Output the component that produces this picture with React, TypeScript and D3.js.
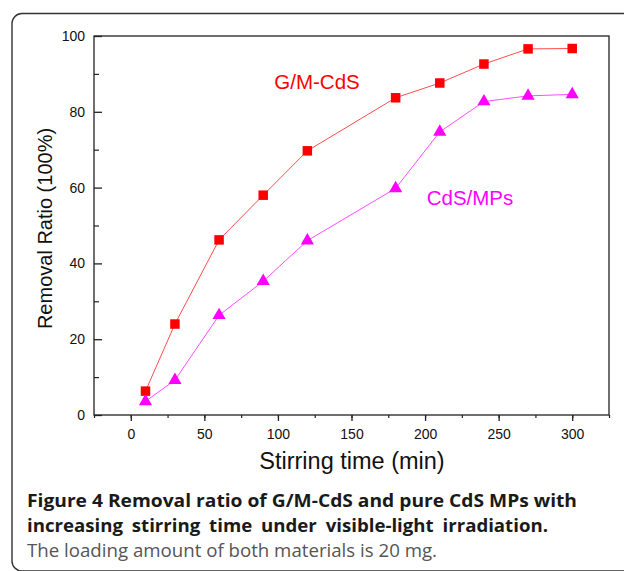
import React, { useRef, useEffect } from "react";
import * as d3 from "d3";

// stirring time (min)
const times = [10, 30, 60, 90, 120, 180, 210, 240, 270, 300];
// removal ratio (%)
const gmCds = [6.3, 24, 46.2, 58, 69.7, 83.7, 87.6, 92.6, 96.6, 96.7];
const cdsMps = [3.6, 9.2, 26.3, 35.3, 46, 59.8, 74.7, 82.7, 84.2, 84.6];
const xTicks = [0, 50, 100, 150, 200, 250, 300];
const yTicks = [0, 20, 40, 60, 80, 100];

const captionBold1 = "Figure 4 Removal ratio of G/M-CdS and pure CdS MPs with";
const captionBold2 = "increasing stirring time under visible-light irradiation.";
const captionPlain = "The loading amount of both materials is 20 mg.";

export default function App() {
  const svgRef = useRef<SVGSVGElement>(null);

  useEffect(() => {
    const width = 624;
    const height = 571;
    const margin = { top: 36, right: 15, bottom: 156, left: 94 };
    const innerWidth = width - margin.left - margin.right;
    const innerHeight = height - margin.top - margin.bottom;

    const svg = d3.select(svgRef.current);
    svg.selectAll("*").remove();
    svg.attr("width", width).attr("height", height);

    // outer figure frame (rounded, runs off right/bottom)
    svg
      .append("rect")
      .attr("x", 12)
      .attr("y", 13.5)
      .attr("width", 640)
      .attr("height", 557.5)
      .attr("rx", 10)
      .attr("fill", "none")
      .attr("stroke", "#333")
      .attr("stroke-width", 1.4);

    const chart = svg
      .append("g")
      .attr("transform", `translate(${margin.left},${margin.top})`);

    const x = d3.scaleLinear().domain([-25, 325]).range([0, innerWidth]);
    const y = d3.scaleLinear().domain([0, 100]).range([innerHeight, 0]);

    const font = "Liberation Sans, Arial, sans-serif";

    /* ---- frame ---- */
    chart
      .append("rect")
      .attr("width", innerWidth)
      .attr("height", innerHeight)
      .attr("fill", "none")
      .attr("stroke", "#222")
      .attr("stroke-width", 1.3);

    /* ---- x axis ---- */
    chart
      .append("g")
      .attr("transform", `translate(0,${innerHeight})`)
      .call(d3.axisBottom(x).tickValues(d3.range(-25, 326, 25)).tickSize(3).tickFormat(() => ""))
      .call((g) => g.select(".domain").remove())
      .call((g) => g.selectAll("line").attr("stroke", "#222").attr("stroke-width", 1.2));

    chart
      .append("g")
      .attr("transform", `translate(0,${innerHeight})`)
      .call(d3.axisBottom(x).tickValues(xTicks).tickSize(6).tickPadding(8))
      .call((g) => g.select(".domain").remove())
      .call((g) => g.selectAll("line").attr("stroke", "#222").attr("stroke-width", 1.3))
      .call((g) =>
        g
          .selectAll("text")
          .attr("fill", "#111")
          .style("font-family", font)
          .style("font-size", "14px")
      );

    /* ---- y axis (ticks point inward) ---- */
    chart
      .append("g")
      .call(d3.axisRight(y).tickValues(d3.range(10, 100, 20)).tickSize(5).tickFormat(() => ""))
      .call((g) => g.select(".domain").remove())
      .call((g) => g.selectAll("line").attr("stroke", "#222").attr("stroke-width", 1.2));

    chart
      .append("g")
      .call(d3.axisRight(y).tickValues(yTicks).tickSize(8).tickFormat(() => ""))
      .call((g) => g.select(".domain").remove())
      .call((g) => g.selectAll("line").attr("stroke", "#222").attr("stroke-width", 1.3));

    chart
      .append("g")
      .call(d3.axisLeft(y).tickValues(yTicks).tickSize(0).tickPadding(9))
      .call((g) => g.select(".domain").remove())
      .call((g) =>
        g
          .selectAll("text")
          .attr("fill", "#111")
          .style("font-family", font)
          .style("font-size", "14px")
      );

    /* ---- axis titles ---- */
    svg
      .append("text")
      .attr("transform", `translate(52,${margin.top + innerHeight / 2 + 3}) rotate(-90)`)
      .attr("text-anchor", "middle")
      .attr("fill", "#111")
      .style("font-family", font)
      .style("font-size", "20px")
      .text("Removal Ratio (100%)");

    svg
      .append("text")
      .attr("x", 352)
      .attr("y", 469)
      .attr("text-anchor", "middle")
      .attr("fill", "#111")
      .style("font-family", font)
      .style("font-size", "23.5px")
      .text("Stirring time (min)");

    /* ---- series ---- */
    const line = d3
      .line<number>()
      .x((d, i) => x(times[i]))
      .y((d) => y(d));

    chart
      .append("path")
      .datum(gmCds)
      .attr("d", line)
      .attr("fill", "none")
      .attr("stroke", "#ff4d4d")
      .attr("stroke-width", 1);

    chart
      .append("path")
      .datum(cdsMps)
      .attr("d", line)
      .attr("fill", "none")
      .attr("stroke", "#ff4dff")
      .attr("stroke-width", 1);

    const sq = 9.5;
    chart
      .selectAll(".sq")
      .data(gmCds)
      .enter()
      .append("rect")
      .attr("x", (d, i) => x(times[i]) - sq / 2)
      .attr("y", (d) => y(d) - sq / 2)
      .attr("width", sq)
      .attr("height", sq)
      .attr("fill", "#ff0000");

    const tri = d3.symbol().type(d3.symbolTriangle).size(75);
    chart
      .selectAll(".tri")
      .data(cdsMps)
      .enter()
      .append("path")
      .attr("transform", (d, i) => `translate(${x(times[i])},${y(d)})`)
      .attr("d", tri)
      .attr("fill", "#ff00ff");

    /* ---- series labels ---- */
    svg
      .append("text")
      .attr("x", 317)
      .attr("y", 89)
      .attr("text-anchor", "middle")
      .attr("fill", "#ff0000")
      .style("font-family", font)
      .style("font-size", "20.5px")
      .text("G/M-CdS");

    svg
      .append("text")
      .attr("x", 470)
      .attr("y", 205)
      .attr("text-anchor", "middle")
      .attr("fill", "#ff00ff")
      .style("font-family", font)
      .style("font-size", "20.5px")
      .text("CdS/MPs");

    /* ---- caption ---- */
    const cap = "Open Sans, Noto Sans, sans-serif";
    svg
      .append("text")
      .attr("x", 27)
      .attr("y", 507)
      .attr("textLength", 550)
      .attr("lengthAdjust", "spacingAndGlyphs")
      .attr("fill", "#1a1a1a")
      .style("font-family", cap)
      .style("font-weight", "700")
      .style("font-size", "18.5px")
      .text(captionBold1);

    svg
      .append("text")
      .attr("x", 27)
      .attr("y", 532)
      .attr("textLength", 521)
      .attr("lengthAdjust", "spacingAndGlyphs")
      .attr("fill", "#1a1a1a")
      .style("font-family", cap)
      .style("font-weight", "700")
      .style("font-size", "18.5px")
      .style("word-spacing", "4px")
      .text(captionBold2);

    svg
      .append("text")
      .attr("x", 27)
      .attr("y", 557)
      .attr("textLength", 410)
      .attr("lengthAdjust", "spacingAndGlyphs")
      .attr("fill", "#555")
      .style("font-family", cap)
      .style("font-size", "17.5px")
      .text(captionPlain);
  }, []);

  return (
    <div style={{ position: "absolute", left: 0, top: 0, width: 624, height: 571, background: "#fff" }}>
      <svg ref={svgRef} style={{ display: "block" }}></svg>
    </div>
  );
}
